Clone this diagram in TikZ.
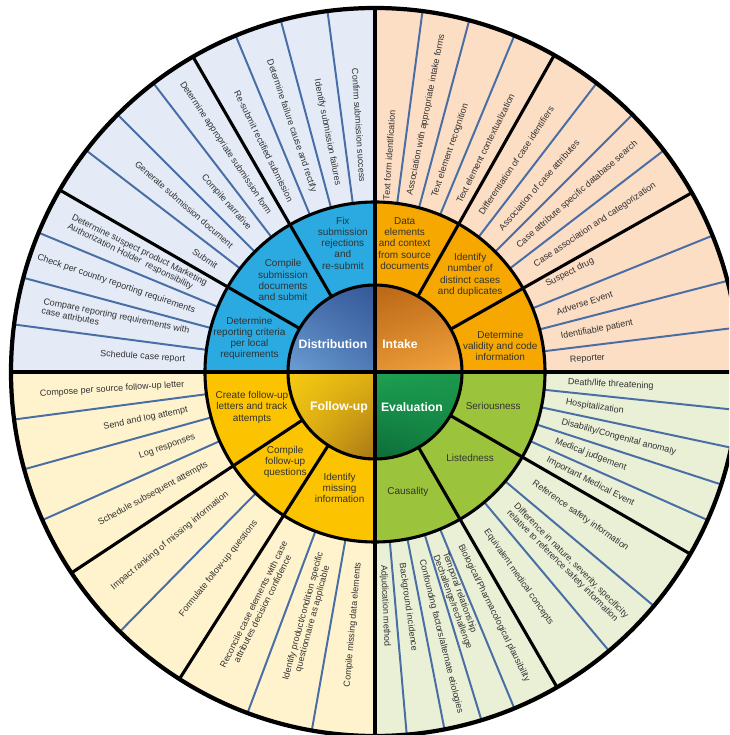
\documentclass[tikz,border=0pt]{standalone}
\usepackage{fontspec}
\setmainfont{Liberation Sans}
\usetikzlibrary{shadings}

\definecolor{distlight}{RGB}{228,235,247}
\definecolor{intlight}{RGB}{252,222,197}
\definecolor{fuplight}{RGB}{255,243,206}
\definecolor{evallight}{RGB}{234,240,214}
\definecolor{distmid}{RGB}{42,170,225}
\definecolor{intmid}{RGB}{246,168,0}
\definecolor{fupmid}{RGB}{252,196,0}
\definecolor{evalmid}{RGB}{156,195,60}
\definecolor{distdark}{RGB}{52,88,152}
\definecolor{distpale}{RGB}{108,158,212}
\definecolor{intdark}{RGB}{186,102,22}
\definecolor{intpale}{RGB}{244,166,62}
\definecolor{fupdark}{RGB}{168,118,22}
\definecolor{fuppale}{RGB}{246,202,18}
\definecolor{evaldark}{RGB}{12,108,56}
\definecolor{evalpale}{RGB}{30,162,82}
\definecolor{subblue}{RGB}{72,110,165}
\definecolor{textgray}{RGB}{50,50,50}

\tikzset{
  ring/.style={line width=2.2pt},
  divider/.style={line width=2.2pt},
  subline/.style={draw=subblue,line width=1.4pt},
  item/.style={font=\fontsize{6.4}{7}\selectfont,text=textgray,inner sep=0pt,align=left},
  task/.style={font=\fontsize{7.1}{8}\selectfont,text=textgray,inner sep=0pt,align=center},
  phase/.style={font=\fontsize{8.7}{10}\selectfont\bfseries,text=white,inner sep=0pt}
}

\begin{document}
\begin{tikzpicture}[x=0.025cm,y=0.025cm]
  \useasboundingbox (-375,-363) rectangle (354,372);
  \fill[white] (-375,-363) rectangle (354,372);
  \clip (-375,-363) rectangle (354,372);

  % outer ring
  \fill[intlight] (0,0) -- (0:365) arc[start angle=0,end angle=90,radius=365] -- cycle;
  \fill[distlight] (0,0) -- (90:365) arc[start angle=90,end angle=180,radius=365] -- cycle;
  \fill[fuplight] (0,0) -- (180:365) arc[start angle=180,end angle=270,radius=365] -- cycle;
  \fill[evallight] (0,0) -- (270:365) arc[start angle=270,end angle=360,radius=365] -- cycle;

  % task ring
  \fill[intmid] (0,0) -- (0:170) arc[start angle=0,end angle=90,radius=170] -- cycle;
  \fill[distmid] (0,0) -- (90:170) arc[start angle=90,end angle=180,radius=170] -- cycle;
  \fill[fupmid] (0,0) -- (180:170) arc[start angle=180,end angle=270,radius=170] -- cycle;
  \fill[evalmid] (0,0) -- (270:170) arc[start angle=270,end angle=360,radius=170] -- cycle;

  % phase circle
  \shade[upper left=intdark,upper right=intdark!80!intpale,
    lower left=intdark!30!intpale,lower right=intpale]
    (0,0) -- (0:87) arc[start angle=0,end angle=90,radius=87] -- cycle;
  \shade[upper left=distdark!70!distpale,upper right=distdark,
    lower left=distpale,lower right=distdark!50!distpale]
    (0,0) -- (90:87) arc[start angle=90,end angle=180,radius=87] -- cycle;
  \shade[upper left=fuppale,upper right=fuppale!70!fupdark,
    lower left=fuppale!75!fupdark,lower right=fupdark]
    (0,0) -- (180:87) arc[start angle=180,end angle=270,radius=87] -- cycle;
  \shade[upper left=evalpale,upper right=evalpale!80!evaldark,
    lower left=evaldark,lower right=evaldark!60!evalpale]
    (0,0) -- (270:87) arc[start angle=270,end angle=360,radius=87] -- cycle;

  % step borders
  \foreach \a in {7,14.5,22,37.5,45,52.5,67.5,75,82.5,
                  97.5,105,112.5,127.5,135,142.5,157.5,165,172.5,
                  187.5,195.5,204,225.5,249.5,260,
                  -6,-12,-18,-24,-40,-50,-67.5,-73,-79,-85}
    \draw[subline] (\a:170) -- (\a:365);

  % task borders
  \foreach \a in {29.5,60.5,120,150,213.5,237.5,-30,-60}
    \draw[divider] (\a:87) -- (\a:365);
  \draw[divider] (-365,0) -- (365,0);
  \draw[divider] (0,-365) -- (0,365);
  \draw[ring] (0,0) circle[radius=87];
  \draw[ring] (0,0) circle[radius=170];
  \draw[line width=3pt] (0,0) circle[radius=364];

  % phases
  \node[phase] (dist) at (-42,28) {Distribution};
  \node[phase] (intake) at (25,28) {Intake};
  \node[phase] (fup) at (-36,-35) {Follow-up};
  \node[phase] (eval) at (37,-35) {Evaluation};

  % tasks
  \node[task] (fix) at (104:133) {Fix\\submission\\rejections\\and\\re-submit};
  \node[task] (compile) at (135:130) {Compile\\submission\\documents\\and submit};
  \node[task] (criteria) at (165:130) {Determine\\reporting criteria\\per local\\requirements};
  \node[task] (data) at (77:132) {Data\\elements\\and context\\from source\\documents};
  \node[task] (cases) at (45.6:136) {Identify\\number of\\distinct cases\\and duplicates};
  \node[task] (validity) at (11.7:128) {Determine\\validity and code\\information};
  \node[task] (letters) at (196:128) {Create follow-up\\letters and track\\attempts};
  \node[task] (questions) at (225:127) {Compile\\follow-up\\questions};
  \node[task] (missing) at (253:121) {Identify\\missing\\information};
  \node[task] (serious) at (-16:123) {Seriousness};
  \node[task] (listed) at (-42:128) {Listedness};
  \node[task] (causal) at (-74.6:124) {Causality};

  % intake steps
  \foreach \a/\r/\t [count=\i] in {
      86.25/172/{Text form identification},
      78.75/180/{Association with appropriate intake forms},
      71.25/185/{Text element recognition},
      63.75/189/{Text element contextualization},
      56.25/190/{Differentiation of case identifiers},
      48.75/190/{Association of case attributes},
      41.25/190/{Case attribute specific database search},
      33.75/192/{Case association and categorization},
      27/192/{Suspect drug},
      18.25/191/{Adverse Event},
      10.75/189/{Identifiable patient},
      3.5/195/{Reporter}}
    \node[item,anchor=west,rotate=\a] (intake-\i) at (\a:\r) {\t};

  % distribution steps
  \foreach \a/\t [count=\i] in {
      93.75/{Confirm submission success},
      101.25/{Identify submission failures},
      108.75/{Determine failure cause and rectify},
      116.25/{Re-submit rectified submission},
      123.75/{Determine appropriate submission form},
      131.25/{Compile narrative},
      138.75/{Generate submission document},
      146.25/{Submit},
      153.75/{Determine suspect product Marketing\\Authorization Holder\ \ responsibility},
      161.25/{Check per country reporting requirements},
      168.75/{Compare reporting requirements with\\case attributes},
      176.25/{Schedule case report}}
    \node[item,anchor=east,rotate=\a+180] (dist-\i) at (\a:190) {\t};

  % follow-up steps
  \foreach \a/\t [count=\i] in {
      183.75/{Compose per source follow-up letter},
      191.5/{Send and log attempt},
      199.75/{Log responses},
      208.75/{Schedule subsequent attempts},
      219.5/{Impact ranking of missing information},
      231.5/{Formulate follow-up questions},
      265/{Compile missing data elements}}
    \node[item,anchor=east,rotate=\a+180] (fup-\i) at (\a:191) {\t};
  \node[item,align=center,anchor=east,rotate=243.5+180] (fup-8) at (243.5:192)
    {Reconcile case elements with case\\attributes decision confidence};
  \node[item,align=center,anchor=east,rotate=254.75+180] (fup-9) at (254.75:188)
    {Identify product/condition specific\\questionnaire as applicable};

  % evaluation steps
  \foreach \a/\t [count=\i] in {
      -3/{Death/life threatening},
      -9/{Hospitalization},
      -15/{Disability/Congenital anomaly},
      -21/{Medical judgement},
      -27/{Important Medical Event},
      -35/{Reference safety information},
      -45/{Difference in nature, severity, specificity\\relative to reference safety information},
      -55/{Equivalent medical concepts},
      -63.75/{Biological/Pharmacological plausibility},
      -70.25/{Temporal relationship\\Dechallenge/rechallenge},
      -76/{Confounding factors/alternate etiologies},
      -82/{Background incidence},
      -87.5/{Adjudication method}}
    \node[item,anchor=west,rotate=\a] (eval-\i) at (\a:193) {\t};
\end{tikzpicture}
\end{document}
